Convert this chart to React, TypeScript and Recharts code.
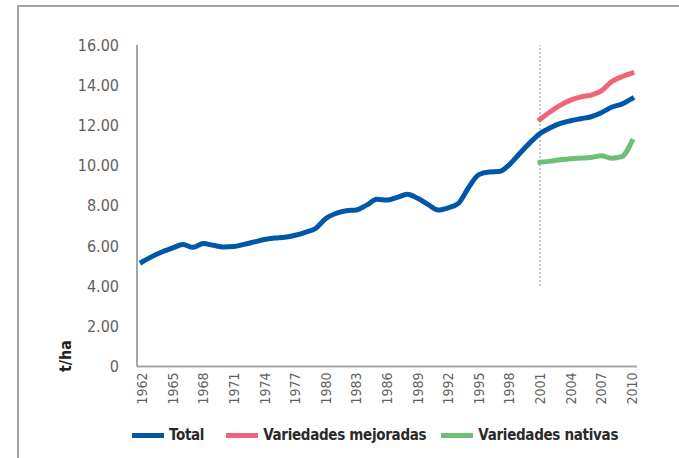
import React from 'react';
import { LineChart, Line, XAxis, YAxis, ReferenceLine, Legend } from 'recharts';

const years = [1962,1963,1964,1965,1966,1967,1968,1969,1970,1971,1972,1973,1974,1975,1976,1977,1978,1979,1980,1981,1982,1983,1984,1985,1986,1987,1988,1989,1990,1991,1992,1993,1994,1995,1996,1997,1998,1999,2000,2001,2002,2003,2004,2005,2006,2007,2008,2009,2010];

const totalValues = [5.2,5.48,5.71,5.9,6.07,5.93,6.12,6.03,5.95,5.97,6.08,6.2,6.32,6.39,6.43,6.53,6.68,6.87,7.37,7.62,7.75,7.79,8.03,8.32,8.28,8.42,8.57,8.37,8.07,7.79,7.9,8.12,8.91,9.55,9.68,9.7,10.05,10.6,11.13,11.6,11.88,12.1,12.23,12.33,12.43,12.63,12.9,13.06,13.33];

const mejoradasYears = [2001,2002,2003,2004,2005,2006,2007,2008,2009,2010];
const mejoradasValues = [12.3,12.68,13.01,13.26,13.42,13.51,13.72,14.17,14.42,14.6];
const nativasValues = [10.16,10.22,10.29,10.34,10.37,10.4,10.49,10.36,10.44,11.2];

const xTicks = [1962,1965,1968,1971,1974,1977,1980,1983,1986,1989,1992,1995,1998,2001,2004,2007,2010];
const yTicks = [0,2,4,6,8,10,12,14,16];

const seriesNames = ['Total', 'Variedades mejoradas', 'Variedades nativas'];
const seriesColors = ['#0057a8', '#ef6577', '#6dbf78'];
const seriesKeys = ['total', 'mejoradas', 'nativas'];

const data = years.map((y, i) => {
  const j = mejoradasYears.indexOf(y);
  return {
    year: y,
    total: totalValues[i],
    mejoradas: j >= 0 ? mejoradasValues[j] : null,
    nativas: j >= 0 ? nativasValues[j] : null,
  };
});

const FONT = '"Liberation Sans Narrow", "DejaVu Sans Condensed", "Open Sans", sans-serif';

const XTick = (props: any) => {
  const { x, y, payload } = props;
  return (
    <g transform={`translate(${x},${y})`}>
      <text
        x={0}
        y={0}
        transform="rotate(-90)"
        textAnchor="end"
        dy="0.36em"
        fill="#5f5f5f"
        fontSize={14}
        fontFamily={FONT}
      >
        {payload.value}
      </text>
    </g>
  );
};

const LegendContent = () => (
  <div
    style={{
      display: 'flex',
      alignItems: 'center',
      height: 24,
      width: 679,
      paddingLeft: 132,
      boxSizing: 'border-box',
      fontFamily: FONT,
      fontWeight: 'bold',
      fontSize: 15,
      letterSpacing: -0.3,
      color: '#2a2a2a',
      whiteSpace: 'nowrap',
    }}
  >
    {seriesNames.map((n, i) => (
      <div key={n} style={{ display: 'flex', alignItems: 'center', flexShrink: 0, marginRight: i === 0 ? 22 : 15 }}>
        <span style={{ display: 'inline-block', width: 32, height: 5, background: seriesColors[i], marginRight: 5, flexShrink: 0 }} />
        <span>{n}</span>
      </div>
    ))}
  </div>
);

export default function App() {
  return (
    <div style={{ position: 'absolute', left: 0, top: 0, width: 679, height: 458, overflow: 'hidden', background: '#fff' }}>
      <div
        style={{
          position: 'absolute',
          left: 17,
          top: 5,
          width: 800,
          height: 600,
          borderTop: '2px solid #a3a3a3',
          borderLeft: '2px solid #a3a3a3',
        }}
      />
      <div style={{ position: 'absolute', left: 0, top: 0 }}>
        <LineChart
          width={679}
          height={458}
          data={data}
          margin={{ top: 45, right: 42, left: 0, bottom: 27.5 }}
        >
          <XAxis
            dataKey="year"
            type="number"
            domain={[1961.5, 2010.5]}
            ticks={xTicks}
            interval={0}
            height={40}
            tickLine={false}
            tickSize={0}
            tickMargin={6}
            axisLine={{ stroke: '#a6a6a6', strokeWidth: 2 }}
            tick={<XTick />}
          />
          <YAxis
            type="number"
            domain={[0, 16]}
            ticks={yTicks}
            interval={0}
            width={137}
            tickLine={false}
            tickSize={0}
            tickMargin={18}
            axisLine={{ stroke: '#a6a6a6', strokeWidth: 2 }}
            tick={{ fill: '#5f5f5f', fontSize: 16, fontFamily: FONT }}
            tickFormatter={(v: number) => (v === 0 ? '0' : v.toFixed(2))}
            label={{
              content: () => (
                <text
                  x={65}
                  y={356}
                  transform="rotate(-90 65 356)"
                  textAnchor="middle"
                  dy="0.35em"
                  fill="#222"
                  fontWeight="bold"
                  fontSize={16}
                  fontFamily={FONT}
                >
                  t/ha
                </text>
              ),
            }}
          />
          <ReferenceLine
            segment={[{ x: 2001, y: 4 }, { x: 2001, y: 16 }]}
            stroke="#8c8c8c"
            strokeWidth={1}
            strokeDasharray="2 2"
          />
          {seriesKeys.map((k, i) => (
            <Line
              key={k}
              type="monotone"
              dataKey={k}
              name={seriesNames[i]}
              stroke={seriesColors[i]}
              strokeWidth={5}
              strokeLinecap="square"
              dot={false}
              activeDot={false}
              connectNulls={false}
              isAnimationActive={false}
            />
          ))}
          <Legend
            verticalAlign="bottom"
            content={<LegendContent />}
            wrapperStyle={{ position: 'absolute', top: 423, left: 0, width: 679, height: 24 }}
          />
        </LineChart>
      </div>
    </div>
  );
}
